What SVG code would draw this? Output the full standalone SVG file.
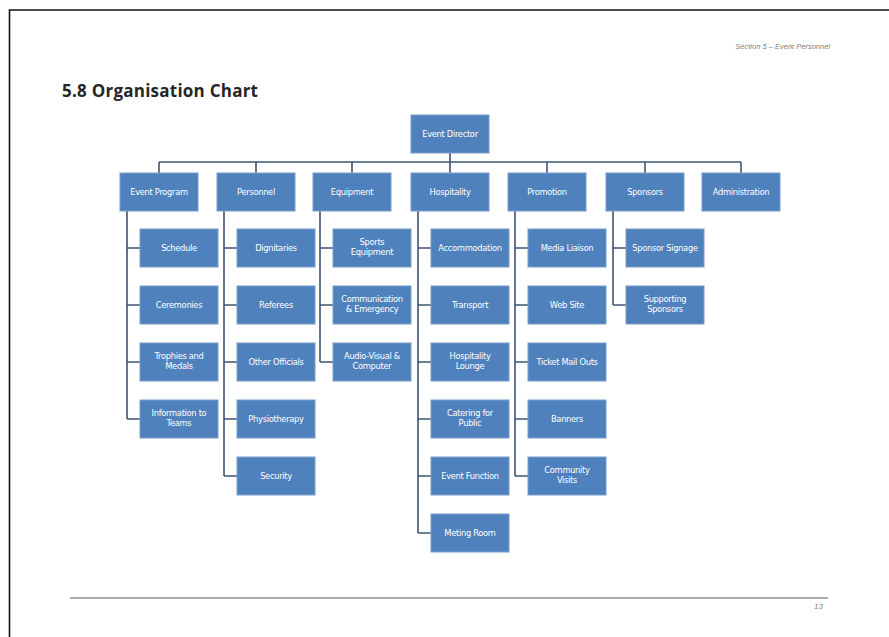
<svg xmlns="http://www.w3.org/2000/svg" width="889" height="637" viewBox="0 0 889 637">
<style>
.box{fill:#4f81bd;stroke:#7b9dc9;stroke-width:1}
.t{font-family:"DejaVu Sans","Liberation Sans",sans-serif;font-size:8.3px;fill:#ffffff;text-anchor:middle;letter-spacing:-0.3px}
.ln{fill:none;stroke:#3e5475;stroke-width:1.6}
</style>
<rect width="889" height="637" fill="#ffffff"/>
<path d="M9.5 637 V10 H889" fill="none" stroke="#111" stroke-width="1.6"/>
<text x="830" y="49" font-family="Liberation Sans,sans-serif" font-size="7.5" font-style="italic" fill="#808080" text-anchor="end">Section 5 – Event Personnel</text>
<text x="62" y="97" font-family="Open Sans,Liberation Sans,sans-serif" font-size="17" font-weight="bold" fill="#262626" textLength="196" lengthAdjust="spacing">5.8 Organisation Chart</text>
<line x1="70" y1="598" x2="828" y2="598" stroke="#8c8c8c" stroke-width="1.5"/>
<text x="823" y="609" font-family="Liberation Sans,sans-serif" font-size="8" font-style="italic" fill="#808080" text-anchor="end">13</text>

<g id="connectors" class="ln">
<path d="M450 153 V162 M159 162 H741 M159 162 V173 M256 162 V173 M352 162 V173 M450 162 V173 M547 162 V173 M645 162 V173 M741 162 V173"/>
<path d="M127 211 V419 M127 248 H140 M127 305 H140 M127 362 H140 M127 419 H140"/>
<path d="M224 211 V476 M224 248 H237 M224 305 H237 M224 362 H237 M224 419 H237 M224 476 H237"/>
<path d="M320 211 V362 M320 248 H333 M320 305 H333 M320 362 H333"/>
<path d="M418 211 V533 M418 248 H431 M418 305 H431 M418 362 H431 M418 419 H431 M418 476 H431 M418 533 H431"/>
<path d="M515 211 V476 M515 248 H528 M515 305 H528 M515 362 H528 M515 419 H528 M515 476 H528"/>
<path d="M613 211 V305 M613 248 H626 M613 305 H626"/>
</g>

<g id="n-director"><rect class="box" x="411" y="115" width="78" height="38"/><text class="t" x="450" y="137">Event Director</text></g>

<g id="n-program"><rect class="box" x="120" y="173" width="78" height="38"/><text class="t" x="159" y="195">Event Program</text></g>
<g id="n-personnel"><rect class="box" x="217" y="173" width="78" height="38"/><text class="t" x="256" y="195">Personnel</text></g>
<g id="n-equipment"><rect class="box" x="313" y="173" width="78" height="38"/><text class="t" x="352" y="195">Equipment</text></g>
<g id="n-hospitality"><rect class="box" x="411" y="173" width="78" height="38"/><text class="t" x="450" y="195">Hospitality</text></g>
<g id="n-promotion"><rect class="box" x="508" y="173" width="78" height="38"/><text class="t" x="547" y="195">Promotion</text></g>
<g id="n-sponsors"><rect class="box" x="606" y="173" width="78" height="38"/><text class="t" x="645" y="195">Sponsors</text></g>
<g id="n-admin"><rect class="box" x="702" y="173" width="78" height="38"/><text class="t" x="741" y="195">Administration</text></g>

<g id="n-schedule"><rect class="box" x="140" y="229" width="78" height="38"/><text class="t" x="179" y="251">Schedule</text></g>
<g id="n-ceremonies"><rect class="box" x="140" y="286" width="78" height="38"/><text class="t" x="179" y="308">Ceremonies</text></g>
<g id="n-trophies"><rect class="box" x="140" y="343" width="78" height="38"/><text class="t" x="179" y="359">Trophies and<tspan x="179" dy="10">Medals</tspan></text></g>
<g id="n-info"><rect class="box" x="140" y="400" width="78" height="38"/><text class="t" x="179" y="416">Information to<tspan x="179" dy="10">Teams</tspan></text></g>

<g id="n-dignitaries"><rect class="box" x="237" y="229" width="78" height="38"/><text class="t" x="276" y="251">Dignitaries</text></g>
<g id="n-referees"><rect class="box" x="237" y="286" width="78" height="38"/><text class="t" x="276" y="308">Referees</text></g>
<g id="n-officials"><rect class="box" x="237" y="343" width="78" height="38"/><text class="t" x="276" y="365">Other Officials</text></g>
<g id="n-physio"><rect class="box" x="237" y="400" width="78" height="38"/><text class="t" x="276" y="422">Physiotherapy</text></g>
<g id="n-security"><rect class="box" x="237" y="457" width="78" height="38"/><text class="t" x="276" y="479">Security</text></g>

<g id="n-sports"><rect class="box" x="333" y="229" width="78" height="38"/><text class="t" x="372" y="245">Sports<tspan x="372" dy="10">Equipment</tspan></text></g>
<g id="n-comms"><rect class="box" x="333" y="286" width="78" height="38"/><text class="t" x="372" y="302">Communication<tspan x="372" dy="10">&amp; Emergency</tspan></text></g>
<g id="n-av"><rect class="box" x="333" y="343" width="78" height="38"/><text class="t" x="372" y="359">Audio-Visual &amp;<tspan x="372" dy="10">Computer</tspan></text></g>

<g id="n-accom"><rect class="box" x="431" y="229" width="78" height="38"/><text class="t" x="470" y="251">Accommodation</text></g>
<g id="n-transport"><rect class="box" x="431" y="286" width="78" height="38"/><text class="t" x="470" y="308">Transport</text></g>
<g id="n-lounge"><rect class="box" x="431" y="343" width="78" height="38"/><text class="t" x="470" y="359">Hospitality<tspan x="470" dy="10">Lounge</tspan></text></g>
<g id="n-catering"><rect class="box" x="431" y="400" width="78" height="38"/><text class="t" x="470" y="416">Catering for<tspan x="470" dy="10">Public</tspan></text></g>
<g id="n-function"><rect class="box" x="431" y="457" width="78" height="38"/><text class="t" x="470" y="479">Event Function</text></g>
<g id="n-meeting"><rect class="box" x="431" y="514" width="78" height="38"/><text class="t" x="470" y="536">Meting Room</text></g>

<g id="n-media"><rect class="box" x="528" y="229" width="78" height="38"/><text class="t" x="567" y="251">Media Liaison</text></g>
<g id="n-web"><rect class="box" x="528" y="286" width="78" height="38"/><text class="t" x="567" y="308">Web Site</text></g>
<g id="n-ticket"><rect class="box" x="528" y="343" width="78" height="38"/><text class="t" x="567" y="365">Ticket Mail Outs</text></g>
<g id="n-banners"><rect class="box" x="528" y="400" width="78" height="38"/><text class="t" x="567" y="422">Banners</text></g>
<g id="n-community"><rect class="box" x="528" y="457" width="78" height="38"/><text class="t" x="567" y="473">Community<tspan x="567" dy="10">Visits</tspan></text></g>

<g id="n-signage"><rect class="box" x="626" y="229" width="78" height="38"/><text class="t" x="665" y="251">Sponsor Signage</text></g>
<g id="n-supporting"><rect class="box" x="626" y="286" width="78" height="38"/><text class="t" x="665" y="302">Supporting<tspan x="665" dy="10">Sponsors</tspan></text></g>
</svg>
